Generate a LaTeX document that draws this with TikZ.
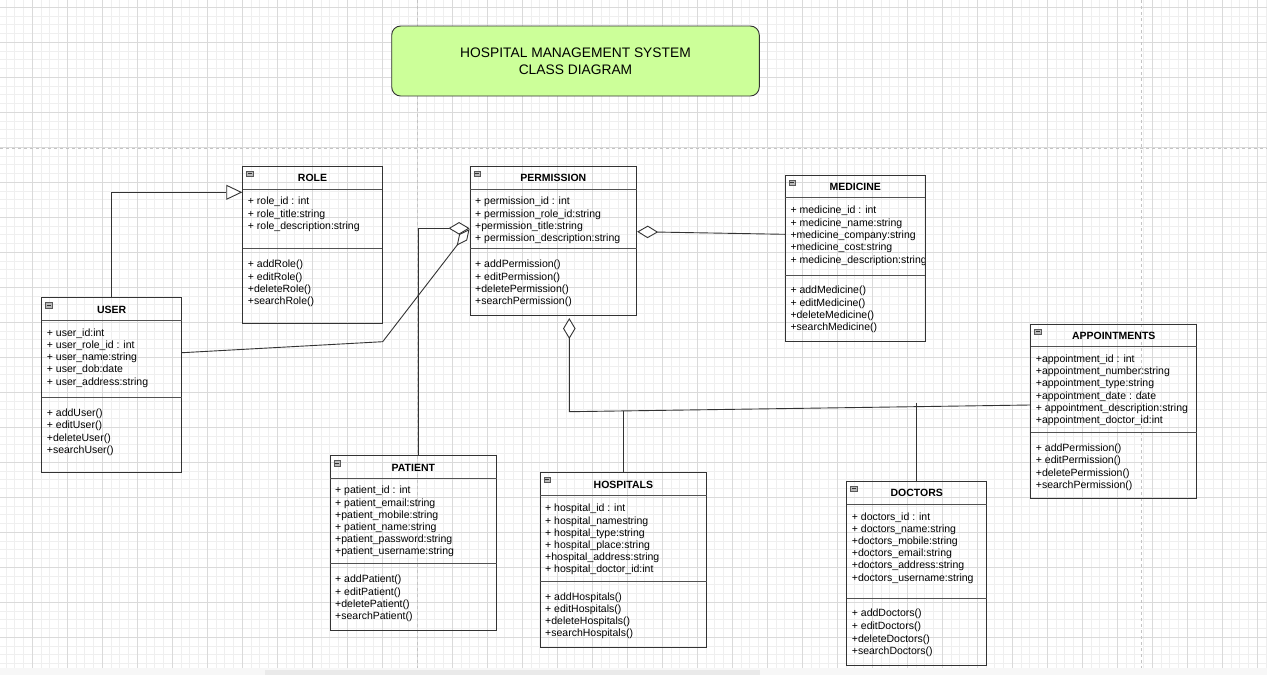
\documentclass[tikz,border=0pt]{standalone}
\usepackage{fontspec}
\setmainfont{Liberation Sans}
\usetikzlibrary{arrows.meta,fit,calc}
\definecolor{gridminor}{HTML}{EFEFEF}
\definecolor{gridmajor}{HTML}{DADADA}
\definecolor{pagebreak}{HTML}{C4C4C4}
\definecolor{titlefill}{HTML}{CCFF99}
\definecolor{linec}{HTML}{333333}
\definecolor{stripc}{HTML}{F7F7F7}
\definecolor{thumbc}{HTML}{EAEAEA}
\tikzset{
 classbox/.style={draw=linec, line width=0.9pt, inner sep=0pt},
 sepline/.style={draw=linec!85, line width=1pt},
 classtitle/.style={font=\fontsize{10.5}{12}\selectfont\bfseries, inner sep=0pt},
 member/.style={anchor=base west, inner sep=0pt, font=\fontsize{10.5}{12}\selectfont},
 collapse/.style={draw=gray!70!black, fill=gray!55, minimum width=6.5pt, minimum height=5.5pt, inner sep=0pt, line width=0.5pt,
   path picture={\draw[black!80, line width=0.7pt] ([xshift=1.3pt]path picture bounding box.west) -- ([xshift=-1.3pt]path picture bounding box.east);}},
 titlebox/.style={draw=linec, line width=0.9pt, fill=titlefill, rounded corners=9pt, align=center,
   font=\fontsize{13.8}{16.7}\selectfont, inner sep=0pt},
 conn/.style={draw=linec, line width=0.9pt},
 aggr/.style={-{Diamond[length=21pt,width=12.5pt,fill=white]}},
 aggrthin/.style={-{Diamond[length=21pt,width=10pt,fill=white]}},
 gen/.style={-{Triangle[length=16pt,width=15pt,fill=white]}},
 gridmin/.style={draw=gridminor, line width=0.8pt},
 gridmaj/.style={draw=gridmajor, line width=0.8pt},
 pageline/.style={draw=pagebreak, line width=1pt, dash pattern=on 3pt off 3pt},
}
% #1 name, #2 x1, #3 y1, #4 x2, #5 y2, #6 header line y, #7 separator y, #8 title
\newcommand\umlclass[8]{%
 \node[classbox, fit={(#2,#3)(#4,#5)}] (#1) {};
 \draw[sepline] (#2,#6) -- (#4,#6);
 \draw[sepline] (#2,#7) -- (#4,#7);
 \node[classtitle] (#1-title) at ({(#2+#4)/2},{(#3+#6)/2+0.6}) {#8};
 \node[collapse] (#1-icon) at ({#2+7},{#3+7.5}) {};
}
% #1 name, #2 x, #3 y (visual centre), #4 text
\newcommand\mbr[4]{\node[member] (#1) at ({#2},{#3+4.5}) {#4};}

\begin{document}
\begin{tikzpicture}[x=1pt,y=-1pt]
\useasboundingbox (0,0) rectangle (1267,675);
\clip (0,0) rectangle (1267,675);
\fill[white] (0,0) rectangle (1267,675);
% grid
\foreach \i in {0,...,145} {\draw[gridmin] ({-2.7+8.75*\i},0) -- ({-2.7+8.75*\i},668);}
\foreach \i in {0,...,76} {\draw[gridmin] (0,{-1.45+8.75*\i}) -- (1267,{-1.45+8.75*\i});}
\foreach \i in {0,...,36} {\draw[gridmaj] ({-2.7+35*\i},0) -- ({-2.7+35*\i},668);}
\foreach \i in {0,...,18} {\draw[gridmaj] (0,{7.3+35*\i}) -- (1267,{7.3+35*\i});}
% page breaks
\draw[pageline] (0,148) -- (1267,148);
\draw[pageline] (417,0) -- (417,668);
\draw[pageline] (1141.3,0) -- (1141.3,668);
% bottom strip
\fill[stripc] (0,668) rectangle (1267,675);
\fill[thumbc] (265,669.5) rectangle (760,675);

% title
\node[titlebox, minimum width=367.6pt, minimum height=70pt] (title) at (575.5,61) {HOSPITAL MANAGEMENT SYSTEM\\CLASS DIAGRAM};

% ROLE
\umlclass{role}{242.7}{166}{382.3}{323.3}{189.3}{248.3}{ROLE}
\mbr{role-a1}{247.7}{200}{+ role\_id : int}
\mbr{role-a2}{247.7}{212.7}{+ role\_title:string}
\mbr{role-a3}{247.7}{225}{+ role\_description:string}
\mbr{role-m1}{247.7}{263.3}{+ addRole()}
\mbr{role-m2}{247.7}{275.8}{+ editRole()}
\mbr{role-m3}{247.7}{288}{+deleteRole()}
\mbr{role-m4}{247.7}{300.2}{+searchRole()}

% USER
\umlclass{user}{41.7}{297.7}{181.7}{472.3}{320.7}{397.3}{USER}
\mbr{user-a1}{46.7}{332.3}{+ user\_id:int}
\mbr{user-a2}{46.7}{344.3}{+ user\_role\_id : int}
\mbr{user-a3}{46.7}{356.3}{+ user\_name:string}
\mbr{user-a4}{46.7}{368.3}{+ user\_dob:date}
\mbr{user-a5}{46.7}{380.7}{+ user\_address:string}
\mbr{user-m1}{46.7}{412.3}{+ addUser()}
\mbr{user-m2}{46.7}{424.3}{+ editUser()}
\mbr{user-m3}{46.7}{436.7}{+deleteUser()}
\mbr{user-m4}{46.7}{448.7}{+searchUser()}

% PERMISSION
\umlclass{permission}{470}{166}{636.7}{315}{189.3}{248.3}{PERMISSION}
\mbr{perm-a1}{475}{200}{+ permission\_id : int}
\mbr{perm-a2}{475}{212.7}{+ permission\_role\_id:string}
\mbr{perm-a3}{475}{225}{+permission\_title:string}
\mbr{perm-a4}{475}{237.3}{+ permission\_description:string}
\mbr{perm-m1}{475}{263.3}{+ addPermission()}
\mbr{perm-m2}{475}{275.8}{+ editPermission()}
\mbr{perm-m3}{475}{288}{+deletePermission()}
\mbr{perm-m4}{475}{300.2}{+searchPermission()}

% MEDICINE
\umlclass{medicine}{785.3}{175}{925.3}{341}{197.7}{275}{MEDICINE}
\begin{scope}
\clip (785.3,175) rectangle (924.8,341);
\mbr{med-a1}{790.3}{209.3}{+ medicine\_id : int}
\mbr{med-a2}{790.3}{221.7}{+ medicine\_name:string}
\mbr{med-a3}{790.3}{234}{+medicine\_company:string}
\mbr{med-a4}{790.3}{246.3}{+medicine\_cost:string}
\mbr{med-a5}{790.3}{258.7}{+ medicine\_description:string}
\end{scope}
\mbr{med-m1}{790.3}{289.3}{+ addMedicine()}
\mbr{med-m2}{790.3}{301.7}{+ editMedicine()}
\mbr{med-m3}{790.3}{314}{+deleteMedicine()}
\mbr{med-m4}{790.3}{326}{+searchMedicine()}

% APPOINTMENTS
\umlclass{appointments}{1030.7}{324.3}{1196.7}{498.3}{346.7}{432.3}{APPOINTMENTS}
\mbr{app-a1}{1035.7}{358.3}{+appointment\_id : int}
\mbr{app-a2}{1035.7}{370.3}{+appointment\_number:string}
\mbr{app-a3}{1035.7}{382.3}{+appointment\_type:string}
\mbr{app-a4}{1035.7}{395}{+appointment\_date : date}
\mbr{app-a5}{1035.7}{407}{+ appointment\_description:string}
\mbr{app-a6}{1035.7}{419}{+appointment\_doctor\_id:int}
\mbr{app-m1}{1035.7}{447.3}{+ addPermission()}
\mbr{app-m2}{1035.7}{459.3}{+ editPermission()}
\mbr{app-m3}{1035.7}{471.7}{+deletePermission()}
\mbr{app-m4}{1035.7}{484}{+searchPermission()}

% PATIENT
\umlclass{patient}{330}{455.7}{496.7}{630}{478.3}{563.3}{PATIENT}
\mbr{pat-a1}{335}{489.3}{+ patient\_id : int}
\mbr{pat-a2}{335}{501.7}{+ patient\_email:string}
\mbr{pat-a3}{335}{514}{+patient\_mobile:string}
\mbr{pat-a4}{335}{526}{+ patient\_name:string}
\mbr{pat-a5}{335}{538}{+patient\_password:string}
\mbr{pat-a6}{335}{550}{+patient\_username:string}
\mbr{pat-m1}{335}{578}{+ addPatient()}
\mbr{pat-m2}{335}{590.7}{+ editPatient()}
\mbr{pat-m3}{335}{603}{+deletePatient()}
\mbr{pat-m4}{335}{615}{+searchPatient()}

% HOSPITALS
\umlclass{hospitals}{540}{472.3}{706.7}{647.7}{495.7}{581.7}{HOSPITALS}
\mbr{hos-a1}{545}{507.3}{+ hospital\_id : int}
\mbr{hos-a2}{545}{519.7}{+ hospital\_namestring}
\mbr{hos-a3}{545}{531.7}{+ hospital\_type:string}
\mbr{hos-a4}{545}{543.7}{+ hospital\_place:string}
\mbr{hos-a5}{545}{556}{+hospital\_address:string}
\mbr{hos-a6}{545}{568}{+ hospital\_doctor\_id:int}
\mbr{hos-m1}{545}{596}{+ addHospitals()}
\mbr{hos-m2}{545}{608}{+ editHospitals()}
\mbr{hos-m3}{545}{620}{+deleteHospitals()}
\mbr{hos-m4}{545}{632}{+searchHospitals()}

% DOCTORS
\umlclass{doctors}{846.7}{481}{986.7}{665}{504.3}{598.3}{DOCTORS}
\mbr{doc-a1}{851.7}{515.7}{+ doctors\_id : int}
\mbr{doc-a2}{851.7}{528}{+ doctors\_name:string}
\mbr{doc-a3}{851.7}{540}{+doctors\_mobile:string}
\mbr{doc-a4}{851.7}{552}{+doctors\_email:string}
\mbr{doc-a5}{851.7}{564}{+doctors\_address:string}
\mbr{doc-a6}{851.7}{576.7}{+doctors\_username:string}
\mbr{doc-m1}{851.7}{612.3}{+ addDoctors()}
\mbr{doc-m2}{851.7}{625}{+ editDoctors()}
\mbr{doc-m3}{851.7}{637.7}{+deleteDoctors()}
\mbr{doc-m4}{851.7}{650}{+searchDoctors()}

% connectors
\coordinate (g1) at (111.7,192.3);
\draw[conn, gen] (user.north -| g1) -- (g1) -- (role.west |- g1);

\coordinate (p1) at (418.5,228.3);
\draw[conn, aggr] (patient.north -| p1) -- (p1) -- (permission.west |- p1);

\coordinate (ua) at (181.7,352.7);
\coordinate (ub) at (382.7,341.7);
\coordinate (uc) at (470,229);
\draw[conn, aggrthin] (user.east |- ua) -- (ub) -- (permission.west |- uc);

\coordinate (m1) at (785.3,234.3);
\coordinate (m2) at (636.7,231.7);
\draw[conn, aggr] (medicine.west |- m1) -- (permission.east |- m2);

\coordinate (a1) at (1030.7,405);
\coordinate (a2) at (569.3,411.7);
\coordinate (a3) at (569.3,318);
\draw[conn, aggr] (appointments.west |- a1) -- (a2) -- (a3);

\coordinate (h1) at (623.3,410.9);
\draw[conn] (hospitals.north -| h1) -- (h1);
\coordinate (d1) at (916.7,403.3);
\draw[conn] (doctors.north -| d1) -- (d1);
\end{tikzpicture}
\end{document}
